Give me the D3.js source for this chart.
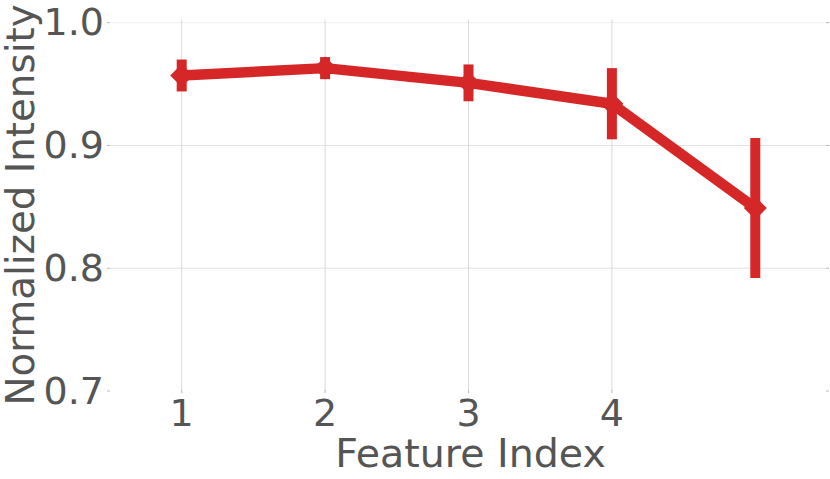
<!DOCTYPE html>
<html>
<head>
<meta charset="utf-8">
<script src="https://cdn.jsdelivr.net/npm/d3@7"></script>
<style>
  html, body { margin: 0; padding: 0; background: #fff; }
  svg { display: block; }
</style>
</head>
<body>
<svg id="chart" width="830" height="479"></svg>
<script>
const features = [1, 2, 3, 4, 5];
const xTickValues = [1, 2, 3, 4];
const intensity = [0.957, 0.963, 0.951, 0.934, 0.849];
const errors = [0.013, 0.009, 0.015, 0.029, 0.057];
const yTickValues = [0.7, 0.8, 0.9, 1.0];
const xLabel = "Feature Index";
const yLabel = "Normalized Intensity";

const W = 830, H = 479;
const plot = { left: 110, right: 827, top: 22.7, bottom: 391 };
const color = "#d62728";
const textColor = "#555555";
const font = "'DejaVu Sans', sans-serif";

const svg = d3.select("#chart");

const x = d3.scaleLinear().domain([0.5, 5.5]).range([plot.left, plot.right]);
const y = d3.scaleLinear().domain([0.7, 1.0]).range([plot.bottom, plot.top]);

// horizontal gridlines (the bottom one sits on the plot border and is not drawn)
svg.append("g").selectAll("line").data(yTickValues.filter(d => d > 0.7)).join("line")
  .attr("x1", plot.left).attr("x2", plot.right)
  .attr("y1", d => y(d)).attr("y2", d => y(d))
  .attr("stroke", d => d === 1.0 ? "#efefef" : "#e2e2e2").attr("stroke-width", 1);

// vertical gridlines
svg.append("g").selectAll("line").data(xTickValues).join("line")
  .attr("x1", d => x(d)).attr("x2", d => x(d))
  .attr("y1", plot.top - 3).attr("y2", plot.bottom)
  .attr("stroke", "#d9d9d9").attr("stroke-width", 1);

// small tick marks
const tickG = svg.append("g").attr("stroke", "#bbbbbb").attr("stroke-width", 1);
tickG.selectAll(".ly").data(yTickValues).join("line")
  .attr("x1", plot.left - 3).attr("x2", plot.left)
  .attr("y1", d => y(d)).attr("y2", d => y(d));
tickG.selectAll(".ry").data(yTickValues).join("line")
  .attr("x1", plot.right - 1).attr("x2", plot.right + 2)
  .attr("y1", d => y(d)).attr("y2", d => y(d));
tickG.selectAll(".bx").data(xTickValues).join("line")
  .attr("x1", d => x(d)).attr("x2", d => x(d))
  .attr("y1", plot.bottom - 1).attr("y2", plot.bottom + 2);

// y tick labels
svg.append("g").selectAll("text").data(yTickValues).join("text")
  .attr("x", plot.left - 6)
  .attr("y", d => y(d) + 12.5)
  .attr("text-anchor", "end")
  .attr("font-family", font).attr("font-size", 38)
  .attr("fill", textColor)
  .text(d => d3.format(".1f")(d));

// x tick labels
svg.append("g").selectAll("text").data(xTickValues).join("text")
  .attr("x", d => x(d))
  .attr("y", 426)
  .attr("text-anchor", "middle")
  .attr("font-family", font).attr("font-size", 38)
  .attr("fill", textColor)
  .text(d => d);

// axis titles
svg.append("text")
  .attr("x", (plot.left + plot.right) / 2 + 2)
  .attr("y", 467)
  .attr("text-anchor", "middle")
  .attr("font-family", font).attr("font-size", 39.5)
  .attr("fill", textColor)
  .text(xLabel);

svg.append("text")
  .attr("transform", `translate(34, 205) rotate(-90)`)
  .attr("text-anchor", "middle")
  .attr("font-family", font).attr("font-size", 38.8)
  .attr("fill", textColor)
  .text(yLabel);

const data = features.map((f, i) => ({ f, v: intensity[i], e: errors[i] }));

// line
svg.append("path")
  .datum(data)
  .attr("fill", "none")
  .attr("stroke", color)
  .attr("stroke-width", 10.5)
  .attr("stroke-linejoin", "round")
  .attr("d", d3.line().x(d => x(d.f)).y(d => y(d.v)));

// error bars
svg.append("g").selectAll("line").data(data).join("line")
  .attr("x1", d => x(d.f)).attr("x2", d => x(d.f))
  .attr("y1", d => y(d.v + d.e)).attr("y2", d => y(d.v - d.e))
  .attr("stroke", color).attr("stroke-width", 10);

// diamond markers
const r = 11.5;
svg.append("g").selectAll("path").data(data).join("path")
  .attr("transform", d => `translate(${x(d.f)},${y(d.v)})`)
  .attr("d", `M0,${-r}L${r},0L0,${r}L${-r},0Z`)
  .attr("fill", color);
</script>
</body>
</html>
